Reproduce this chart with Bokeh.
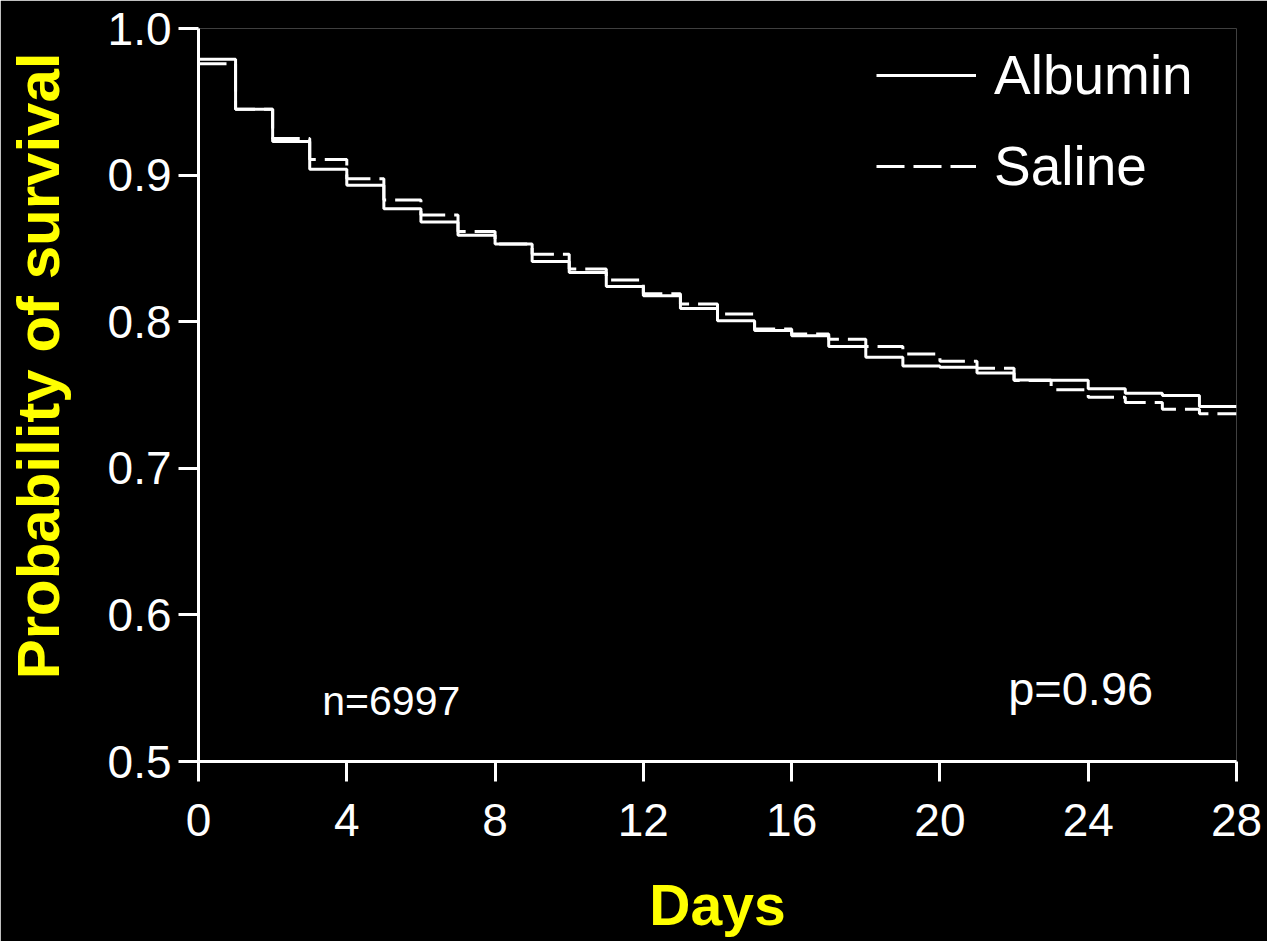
from bokeh.plotting import figure
from bokeh.models import (Range1d, FixedTicker, PrintfTickFormatter, Label, Legend, LegendItem,
                          Title, LinearAxis)
from bokeh.embed import file_html
from bokeh.resources import INLINE

# ---- data ----
days = list(range(0, 29))
albumin = [0.979, 0.945, 0.923, 0.904, 0.893, 0.877, 0.868, 0.859, 0.853, 0.841,
           0.8335, 0.824, 0.8177, 0.809, 0.8007, 0.794, 0.7905, 0.783, 0.7757, 0.7697,
           0.769, 0.765, 0.7603, 0.7600, 0.7542, 0.7512, 0.7497, 0.7422]
saline = [0.976, 0.945, 0.925, 0.9107, 0.8975, 0.883, 0.8728, 0.8615, 0.853, 0.846,
          0.836, 0.8284, 0.819, 0.812, 0.8052, 0.795, 0.7916, 0.788, 0.783, 0.778,
          0.773, 0.7683, 0.7599, 0.7535, 0.7485, 0.7449, 0.7403, 0.7372]
x_ticks = [0, 4, 8, 12, 16, 20, 24, 28]
y_ticks = [0.5, 0.6, 0.7, 0.8, 0.9, 1.0]
series_names = ["Albumin", "Saline"]
n_text = "n=6997"
p_text = "p=0.96"

# step curves: last value held until day 28
alb_y = albumin + [albumin[-1]]
sal_y = saline + [saline[-1]]

p = figure(frame_width=1038, frame_height=733,
           min_border_left=197, min_border_right=32, min_border_top=28, min_border_bottom=180,
           x_range=Range1d(0, 28), y_range=Range1d(0.5, 1.0),
           output_backend="svg", toolbar_location=None)

p.background_fill_color = "black"
p.border_fill_color = "black"
p.outline_line_color = None
p.xgrid.visible = False
p.ygrid.visible = False

r_alb = p.step(days, alb_y, mode="after", line_color="white", line_width=3)
r_sal = p.step(days, sal_y, mode="after", line_color="white", line_width=3, line_dash="28 9")

for ax in (p.xaxis[0], p.yaxis[0]):
    ax.axis_line_color = "white"
    ax.axis_line_width = 3
    ax.major_tick_line_color = "white"
    ax.major_tick_line_width = 3
    ax.major_tick_out = 20
    ax.major_tick_in = 0
    ax.minor_tick_out = 0
    ax.minor_tick_in = 0
    ax.major_label_text_color = "white"

p.xaxis.ticker = FixedTicker(ticks=x_ticks)
p.yaxis.ticker = FixedTicker(ticks=y_ticks)
p.yaxis.formatter = PrintfTickFormatter(format="%.1f")

p.yaxis.major_label_text_font = "Liberation Sans"
p.yaxis.major_label_text_font_size = "46px"
p.yaxis.major_label_standoff = 7

p.xaxis.major_label_text_font = "Liberation Sans"
p.xaxis.major_label_text_font_size = "46px"
p.xaxis.major_label_standoff = 22

p.xaxis.axis_label = "Days"
p.xaxis.axis_label_text_font = "Liberation Sans"
p.xaxis.axis_label_text_font_style = "bold"
p.xaxis.axis_label_text_font_size = "57px"
p.xaxis.axis_label_text_color = "#ffff00"
p.xaxis.axis_label_standoff = 34

# blank spacer: an axis with one tick drawn in the background colour and an empty label,
# used only to push the y title outward
spacer = LinearAxis(ticker=FixedTicker(ticks=[0.75]), axis_line_color=None,
                    major_tick_out=27, major_tick_in=0, minor_tick_out=0, minor_tick_in=0,
                    major_tick_line_color="black", minor_tick_line_color="black",
                    major_label_overrides={0.75: ""}, major_label_standoff=5)
p.add_layout(spacer, "left")

# y axis title on the left, placed above centre as in the original
ytitle = Title(text="Probability of survival", align="right", offset=24, standoff=8,
               vertical_align="top",
               text_font="Liberation Sans", text_font_style="bold",
               text_font_size="60px", text_color="#ffff00")
p.add_layout(ytitle, "left")

p.add_layout(Label(x=3.34, y=0.5416, text=n_text, text_font="Liberation Sans",
                   text_font_size="41px", text_color="white", text_baseline="alphabetic"))
p.add_layout(Label(x=21.84, y=0.5498, text=p_text, text_font="Liberation Sans",
                   text_font_size="47px", text_color="white", text_baseline="alphabetic"))

legend = Legend(items=[LegendItem(label=series_names[0], renderers=[r_alb]),
                       LegendItem(label=series_names[1], renderers=[r_sal])],
                location=(678, 563), orientation="vertical")
legend.background_fill_alpha = 0
legend.border_line_color = None
legend.padding = 0
legend.margin = 0
legend.spacing = 27
legend.glyph_width = 100
legend.glyph_height = 64
legend.label_height = 64
legend.label_standoff = 18
legend.label_text_font = "Liberation Sans"
legend.label_text_font_size = "55px"
legend.label_text_color = "white"
p.add_layout(legend)

open("out.html", "w").write(file_html(p, INLINE))
